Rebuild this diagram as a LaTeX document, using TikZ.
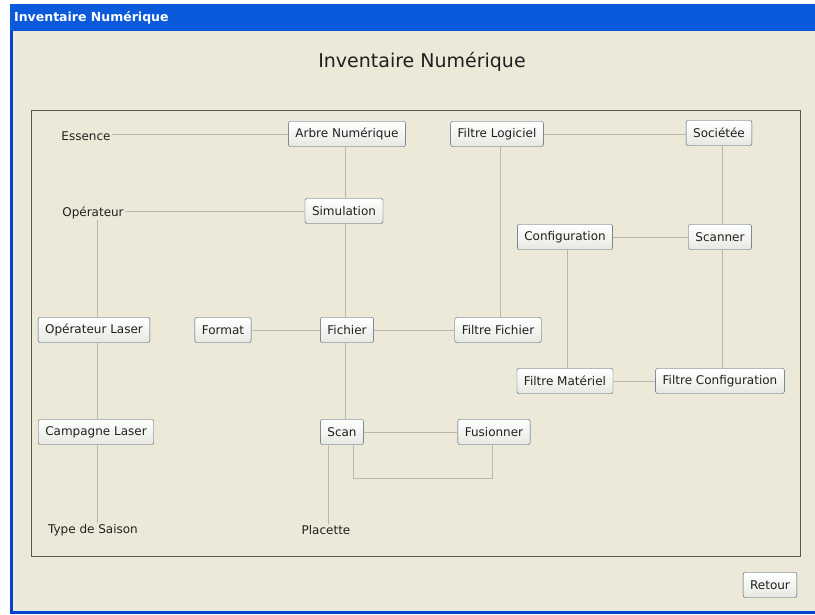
\documentclass[tikz,border=0pt]{standalone}
\usepackage{fontspec}
\setmainfont{DejaVu Sans}
\usetikzlibrary{calc}
\definecolor{winbg}{HTML}{ECE9D8}
\definecolor{titleblue}{HTML}{0A5ADB}
\definecolor{framebl}{HTML}{0842D0}
\definecolor{boxline}{HTML}{3A5670}
\definecolor{boxfill}{HTML}{E8E8E2}
\definecolor{linegray}{HTML}{BAB8AE}
\definecolor{panelline}{HTML}{5A5A52}
\definecolor{textc}{HTML}{202020}

\tikzset{
  box/.style={draw=boxline, rounded corners=2pt, top color=white, bottom color=boxfill,
    minimum height=25pt, inner xsep=7pt, text=textc, font=\fontsize{12}{14}\selectfont},
  bare/.style={text=textc, inner sep=1pt, font=\fontsize{12}{14}\selectfont},
  link/.style={draw=linegray, line width=0.9pt}
}

\begin{document}
\begin{tikzpicture}[x=1pt, y=-1pt]
		%%%%% START %%%%%
		\useasboundingbox (0,0) rectangle (815,615);
		
		% window
		\fill[white] (0,0) rectangle (815,615);
		\fill[titleblue] (10,4) rectangle (815,31);
		\fill[winbg] (10,31) rectangle (815,614);
		\fill[framebl] (10,31) rectangle (13,614);
		\fill[framebl] (10,611) rectangle (815,614);
		\node[anchor=west, text=white, inner sep=0pt, font=\fontsize{12.5}{14}\bfseries] (barre) at (14,18) {Inventaire Numérique};
		\node[text=textc, font=\fontsize{19}{22}\selectfont] (titre) at (422,62) {Inventaire Numérique};
		\draw[panelline, line width=1pt] (31,111) rectangle (800,556);
		
		% tables
		\node[box] (arbre) at (347,134) {Arbre Numérique};
		\node[box] (logiciel) at (497,134) {Filtre Logiciel};
		\node[box] (societe) at (719,133) {Sociétée};
		\node[box] (simu) at (344,211) {Simulation};
		\node[box] (config) at (565,237) {Configuration};
		\node[box] (scanner) at (720,237) {Scanner};
		\node[box] (oplaser) at (94,330) {Opérateur Laser};
		\node[box] (format) at (223,330) {Format};
		\node[box] (fichier) at (347,330) {Fichier};
		\node[box] (ffichier) at (498,330) {Filtre Fichier};
		\node[box] (fmateriel) at (565,381) {Filtre Matériel};
		\node[box] (fconfig) at (720,381) {Filtre Configuration};
		\node[box] (campagne) at (96,432) {Campagne Laser};
		\node[box] (scan) at (342,432) {Scan};
		\node[box] (fusion) at (494,432) {Fusionner};
		
		\node[bare] (essence) at (86,136) {Essence};
		\node[bare] (operateur) at (93,213) {Opérateur};
		\node[bare] (saison) at (93,530) {Type de Saison};
		\node[bare] (placette) at (326,530) {Placette};
		
		\node[box] (retour) at (770,585) {Retour};
		
		% columns of the links
		\coordinate (colA) at (345,0);
		\coordinate (colB) at (97,0);
		\coordinate (colC) at (500,0);
		\coordinate (colD) at (722,0);
		\coordinate (colE) at (567,0);
		\coordinate (colF) at (328,0);
		\coordinate (loopL) at (353,478);
		\coordinate (loopR) at (492,478);
		
		% links
		\draw[link] (essence.east |- arbre) -- (arbre.west);
		\draw[link] (operateur.east |- simu) -- (simu.west);
		\draw[link] (logiciel.east) -- (societe.west |- logiciel);
		\draw[link] (config.east) -- (scanner.west);
		\draw[link] (format.east) -- (fichier.west);
		\draw[link] (fichier.east) -- (ffichier.west);
		\draw[link] (fmateriel.east) -- (fconfig.west);
		\draw[link] (scan.east) -- (fusion.west);
		
		\draw[link] (arbre.south -| colA) -- (simu.north -| colA);
		\draw[link] (simu.south -| colA) -- (fichier.north -| colA);
		\draw[link] (fichier.south -| colA) -- (scan.north -| colA);
		\draw[link] (operateur.south -| colB) -- (oplaser.north -| colB);
		\draw[link] (oplaser.south -| colB) -- (campagne.north -| colB);
		\draw[link] (campagne.south -| colB) -- (saison.north -| colB);
		\draw[link] (logiciel.south -| colC) -- (ffichier.north -| colC);
		\draw[link] (societe.south -| colD) -- (scanner.north -| colD);
		\draw[link] (scanner.south -| colD) -- (fconfig.north -| colD);
		\draw[link] (config.south -| colE) -- (fmateriel.north -| colE);
		\draw[link] (scan.south -| colF) -- (placette.north -| colF);
		\draw[link] (scan.south -| loopL) -- (loopL) -- (loopR) -- (fusion.south -| loopR);
		
		%%%%% END %%%%%
\end{tikzpicture}
\end{document}
